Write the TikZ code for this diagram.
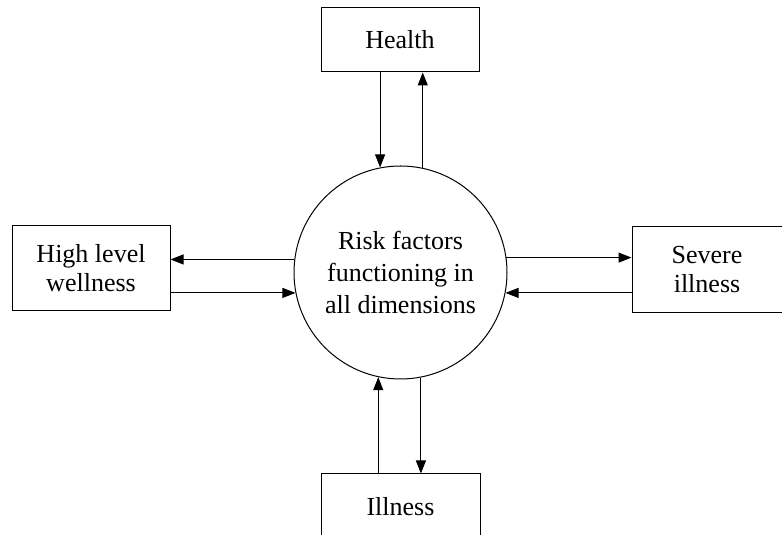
\documentclass[tikz,border=0pt]{standalone}
\usepackage{fontspec}
\setmainfont{Liberation Serif}
\usetikzlibrary{arrows.meta,calc}
\begin{document}
\begin{tikzpicture}[x=1pt,y=1pt,
  box/.style={draw,line width=1pt,inner sep=0pt,align=center,
    font=\fontsize{26}{29}\selectfont},
  arr/.style={line width=1pt,-{Triangle[length=13pt,width=10pt]}}]
\useasboundingbox (0,0) rectangle (782,535);
\begin{scope}
\clip (0,0) rectangle (782,535);
\node[draw,circle,line width=1pt,minimum size=213pt,inner sep=0pt,align=center,
  font=\fontsize{26}{32}\selectfont] (c) at (400.5,262.5)
  {Risk factors\\functioning in\\all dimensions};
\node[box,minimum width=158pt,minimum height=64pt] (h) at (400,495) {Health};
\node[box,minimum width=158pt,minimum height=85pt] (w) at (91,266.5) {High level\\wellness};
\node[box,minimum width=150pt,minimum height=86pt] (s) at (707,265) {Severe\\illness};
\node[box,minimum width=159pt,minimum height=66pt] (i) at (400.5,28) {Illness};
\draw[arr] (h.south -| c.101.65) -- (c.101.65);
\draw[arr] (c.78.35) -- (h.south -| c.78.35);
\draw[arr] (c.173.53) -- (c.173.53 -| w.east);
\draw[arr] (c.191.92 -| w.east) -- (c.191.92);
\draw[arr] (c.8.1) -- (c.8.1 -| s.west);
\draw[arr] (c.349.72 -| s.west) -- (c.349.72);
\draw[arr] (i.north -| c.258.35) -- (c.258.35);
\draw[arr] (c.281.65) -- (i.north -| c.281.65);
\end{scope}
\end{tikzpicture}
\end{document}
